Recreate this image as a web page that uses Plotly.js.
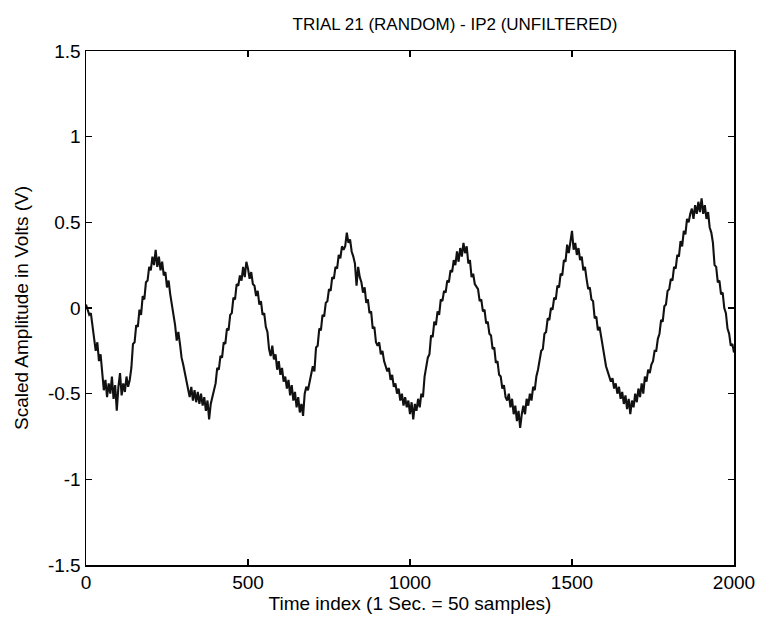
<!DOCTYPE html>
<html>
<head>
<meta charset="utf-8">
<script src="https://cdn.plot.ly/plotly-3.0.1.min.js"></script>
<style>html,body{margin:0;padding:0;background:#fff;}#chart{width:766px;height:624px;}</style>
</head>
<body>
<div id="chart"></div>
<script>
// Sample spacing of the read-off values (samples)
const sampleStep = 5;

// Signal values, every 5 samples, 0..2000
const seg0000 = [0.02,-0.01,-0.04,-0.03,-0.10,-0.16,-0.25,-0.20,-0.31,-0.27,-0.40,-0.48,-0.42,-0.52,-0.44,-0.50,-0.40,-0.53,-0.45,-0.60];
const seg0100 = [-0.46,-0.38,-0.51,-0.44,-0.49,-0.40,-0.46,-0.42,-0.35,-0.21,-0.20,-0.10,-0.11,-0.01,-0.04,0.07,0.05,0.15,0.16,0.24];
const seg0200 = [0.22,0.30,0.25,0.34,0.24,0.30,0.22,0.27,0.19,0.21,0.12,0.16,0.08,0.02,-0.03,-0.10,-0.19,-0.14,-0.21,-0.29];
const seg0300 = [-0.33,-0.38,-0.43,-0.47,-0.52,-0.46,-0.54,-0.48,-0.55,-0.49,-0.56,-0.50,-0.57,-0.52,-0.60,-0.54,-0.65,-0.56,-0.52,-0.47];
const seg0400 = [-0.44,-0.35,-0.36,-0.28,-0.29,-0.20,-0.21,-0.12,-0.13,-0.04,-0.03,0.06,0.05,0.14,0.13,0.19,0.16,0.24,0.18,0.27];
const seg0500 = [0.23,0.17,0.21,0.14,0.13,0.07,0.10,0.02,0.04,-0.04,-0.03,-0.11,-0.14,-0.24,-0.28,-0.22,-0.30,-0.27,-0.36,-0.31];
const seg0600 = [-0.39,-0.35,-0.43,-0.40,-0.47,-0.42,-0.51,-0.45,-0.54,-0.49,-0.58,-0.52,-0.61,-0.56,-0.63,-0.50,-0.46,-0.48,-0.43,-0.40];
const seg0700 = [-0.34,-0.37,-0.23,-0.22,-0.12,-0.13,-0.04,-0.05,0.03,0.04,0.11,0.10,0.18,0.17,0.24,0.23,0.31,0.29,0.36,0.34];
const seg0800 = [0.36,0.44,0.38,0.40,0.33,0.30,0.26,0.13,0.24,0.18,0.15,0.09,0.12,0.03,0.05,-0.03,-0.02,-0.12,-0.11,-0.20];
const seg0900 = [-0.22,-0.20,-0.27,-0.25,-0.31,-0.34,-0.37,-0.35,-0.42,-0.39,-0.46,-0.44,-0.50,-0.47,-0.54,-0.50,-0.57,-0.52,-0.58,-0.54];
const seg1000 = [-0.62,-0.55,-0.65,-0.56,-0.60,-0.53,-0.58,-0.50,-0.52,-0.40,-0.34,-0.29,-0.27,-0.16,-0.17,-0.08,-0.10,-0.02,-0.04,0.05];
const seg1100 = [0.04,0.10,0.09,0.16,0.15,0.22,0.21,0.28,0.25,0.33,0.27,0.35,0.30,0.38,0.32,0.36,0.26,0.28,0.18,0.20];
const seg1200 = [0.14,0.12,0.11,0.04,0.05,-0.02,-0.01,-0.09,-0.08,-0.15,-0.16,-0.24,-0.23,-0.32,-0.31,-0.39,-0.40,-0.47,-0.45,-0.52];
const seg1300 = [-0.54,-0.50,-0.58,-0.53,-0.62,-0.57,-0.66,-0.60,-0.70,-0.62,-0.57,-0.62,-0.53,-0.57,-0.50,-0.54,-0.46,-0.48,-0.40,-0.36];
const seg1400 = [-0.31,-0.25,-0.24,-0.15,-0.14,-0.06,-0.07,0.00,-0.01,0.06,0.05,0.13,0.12,0.20,0.19,0.28,0.27,0.37,0.32,0.40];
const seg1500 = [0.45,0.34,0.38,0.31,0.35,0.28,0.30,0.22,0.24,0.17,0.11,0.12,0.05,0.04,-0.06,-0.05,-0.13,-0.11,-0.17,-0.24];
const seg1600 = [-0.30,-0.34,-0.37,-0.40,-0.43,-0.41,-0.47,-0.44,-0.50,-0.46,-0.53,-0.49,-0.56,-0.51,-0.59,-0.53,-0.62,-0.54,-0.58,-0.50];
const seg1700 = [-0.55,-0.47,-0.52,-0.44,-0.50,-0.40,-0.43,-0.36,-0.38,-0.33,-0.31,-0.25,-0.25,-0.18,-0.15,-0.07,-0.08,0.01,0.02,0.10];
const seg1800 = [0.11,0.17,0.16,0.24,0.23,0.31,0.30,0.39,0.36,0.45,0.43,0.52,0.50,0.55,0.58,0.52,0.60,0.55,0.62,0.56];
const seg1900 = [0.64,0.55,0.60,0.52,0.56,0.47,0.44,0.38,0.25,0.24,0.15,0.16,0.08,0.09,0.00,-0.03,-0.12,-0.15,-0.22,-0.21,-0.26];

const xTickVals = [0, 500, 1000, 1500, 2000];
const xTickText = ['0', '500', '1000', '1500', '2000'];
const yTickVals = [-1.5, -1, -0.5, 0, 0.5, 1, 1.5];
const yTickText = ['-1.5', '-1', '-0.5', '0', '0.5', '1', '1.5'];

const titleText = 'TRIAL 21 (RANDOM) - IP2 (UNFILTERED)';
const xTitle = 'Time index (1 Sec. = 50 samples)';
const yTitle = 'Scaled Amplitude in Volts (V)';

const yValues = [].concat(seg0000, seg0100, seg0200, seg0300, seg0400, seg0500, seg0600, seg0700, seg0800, seg0900,
  seg1000, seg1100, seg1200, seg1300, seg1400, seg1500, seg1600, seg1700, seg1800, seg1900);
const xValues = yValues.map((_, i) => i * sampleStep);

const font = {family: 'Liberation Sans, Arial, sans-serif', color: '#000'};

const trace = {
  x: xValues, y: yValues, type: 'scatter', mode: 'lines',
  line: {color: '#111', width: 2.1}, hoverinfo: 'skip'
};

const axisCommon = {
  showgrid: false, zeroline: false, showline: true, linecolor: '#000', linewidth: 1.5,
  mirror: 'ticks', ticks: 'inside', ticklen: 6, tickwidth: 1.2, tickcolor: '#000',
  tickfont: Object.assign({size: 19}, font)
};

const layout = {
  width: 766, height: 624,
  margin: {l: 86, r: 32, t: 51, b: 59},
  paper_bgcolor: '#fff', plot_bgcolor: '#fff',
  showlegend: false,
  title: {text: titleText, font: Object.assign({size: 17}, font), x: 0.594, xanchor: 'center', y: 0.962, yanchor: 'middle', yref: 'container'},
  xaxis: Object.assign({}, axisCommon, {
    range: [0, 2000], tickvals: xTickVals, ticktext: xTickText,
    title: {text: xTitle, font: Object.assign({size: 19}, font), standoff: 4}
  }),
  yaxis: Object.assign({}, axisCommon, {
    range: [-1.5, 1.5], tickvals: yTickVals, ticktext: yTickText,
    title: {text: yTitle, font: Object.assign({size: 19}, font), standoff: 14}
  })
};

Plotly.newPlot('chart', [trace], layout, {displayModeBar: false, staticPlot: true});
</script>
</body>
</html>
